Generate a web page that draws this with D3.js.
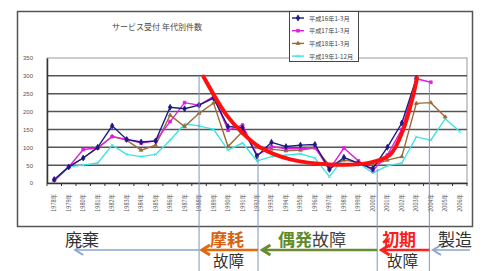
<!DOCTYPE html>
<html>
<head>
<meta charset="utf-8">
<script src="https://cdn.jsdelivr.net/npm/d3@7"></script>
<style>
body { margin: 0; background: #fff; }
svg { display: block; }
</style>
</head>
<body>
<svg id="chart" width="487" height="271"></svg>
<script>
var years = ["1978年","1979年","1980年","1981年","1982年","1983年","1984年","1985年","1986年","1987年",
             "1988年","1989年","1990年","1991年","1992年","1993年","1994年","1995年","1996年","1997年",
             "1998年","1999年","2000年","2001年","2002年","2003年","2004年","2005年","2006年"];
var seriesNames = ["平成16年1-3月", "平成17年1-3月", "平成18年1-3月", "平成19年1-12月"];
var navy = [10, 45, 70, 100, 160, 122, 115, 118, 212, 208, 218, 238, 158, 155, 75, 114, 102, 106, 108, 38, 72, 55, 40, 100, 168, 293];
var magenta = [8, 45, 94, 98, 130, 122, 112, 118, 172, 225, 218, 242, 148, 162, 78, 102, 96, 96, 100, 38, 98, 62, 35, 78, 150, 292, 282];
var brown = [8, 45, 70, 98, 130, 120, 92, 106, 190, 158, 195, 224, 102, 144, 100, 95, 90, 92, 98, 50, 64, 58, 50, 64, 74, 223, 225, 185];
var cyan = [5, 45, 50, 56, 106, 80, 74, 80, 120, 165, 160, 150, 92, 112, 62, 74, 78, 82, 70, 18, 70, 56, 28, 48, 56, 129, 120, 180, 144];
var yTicks = [0, 50, 100, 150, 200, 250, 300, 350];

// bathtub curve, [category index, value]
var bathtub = [[10.3, 298], [11.9, 190], [13.0, 140], [14.2, 100], [16.3, 66], [19, 52],
               [21.8, 57], [23.2, 80], [24.1, 150], [24.7, 232], [25.05, 294]];
// phase boundaries (category index) and where each guide line starts (value)
var phaseIdx = [10, 14.07, 22.3, 25.9];
var phaseTop = [300, 75, 40, 282];

var svg = d3.select("#chart");
var plotL = 47, plotR = 467, plotT = 58, plotB = 183;

var x = d3.scaleBand().domain(years).range([plotL, plotR]).padding(0);
var xi = d3.scaleLinear().domain([-0.5, years.length - 0.5]).range([plotL, plotR]);
var y = d3.scaleLinear().domain([0, 350]).range([plotB, plotT]);

// outer frame
svg.append("rect").attr("x", 17.5).attr("y", 11.5).attr("width", 455).attr("height", 215)
    .attr("fill", "#fff").attr("stroke", "#555").attr("stroke-width", 1.5);

// title
svg.append("text").attr("x", 157).attr("y", 26).attr("text-anchor", "middle")
    .attr("dominant-baseline", "central")
    .attr("font-family", "Noto Sans CJK JP").attr("font-size", 8).attr("fill", "#444")
    .text("サービス受付 年代別件数");

// plot border
svg.append("rect").attr("x", plotL).attr("y", plotT).attr("width", plotR - plotL).attr("height", plotB - plotT)
    .attr("fill", "none").attr("stroke", "#999").attr("stroke-width", 1);

// gridlines
svg.append("g").selectAll("line").data(yTicks.filter(function(d) { return d > 0 && d < 350; }))
    .enter().append("line")
    .attr("x1", plotL).attr("x2", plotR)
    .attr("y1", function(d) { return y(d); }).attr("y2", function(d) { return y(d); })
    .attr("stroke", "#555").attr("stroke-width", 1.5);

// y axis
var yAxis = svg.append("g").attr("transform", "translate(" + plotL + ",0)")
    .call(d3.axisLeft(y).tickValues(yTicks).tickSize(0).tickPadding(14));
yAxis.select(".domain").attr("stroke", "#333").attr("stroke-width", 1.5);
yAxis.selectAll("text").attr("font-family", "Liberation Sans").attr("font-size", 6).attr("fill", "#555");

// x axis
var xAxis = svg.append("g").attr("transform", "translate(0," + plotB + ")")
    .call(d3.axisBottom(x).tickSize(0).tickFormat(""));
xAxis.select(".domain").attr("stroke", "#333").attr("stroke-width", 1.5);
svg.append("g").selectAll("line").data(d3.range(years.length + 1)).enter().append("line")
    .attr("x1", function(d) { return xi(d - 0.5); }).attr("x2", function(d) { return xi(d - 0.5); })
    .attr("y1", plotB).attr("y2", plotB + 3)
    .attr("stroke", "#333").attr("stroke-width", 1);
svg.append("g").selectAll("text").data(years).enter().append("text")
    .attr("transform", function(d) {
        return "translate(" + (x(d) + x.bandwidth() / 2 + 2) + ",194) rotate(-90)";
    })
    .attr("text-anchor", "end")
    .attr("font-family", "Noto Sans CJK JP").attr("font-size", 5.5).attr("fill", "#555")
    .text(function(d) { return d; });

// series
var series = [
    {name: seriesNames[0], values: navy, color: "#1a1a80", symbol: d3.symbolDiamond, size: 10},
    {name: seriesNames[1], values: magenta, color: "#e020e0", symbol: d3.symbolSquare, size: 8},
    {name: seriesNames[2], values: brown, color: "#9a6b3a", symbol: d3.symbolTriangle, size: 6},
    {name: seriesNames[3], values: cyan, color: "#3fe3e3", symbol: d3.symbolX, size: 6}
];

var line = d3.line()
    .x(function(d, i) { return xi(i); })
    .y(function(d) { return y(d); });

series.slice().reverse().forEach(function(s) {
    svg.append("path").datum(s.values).attr("d", line)
        .attr("fill", "none").attr("stroke", s.color).attr("stroke-width", 1.4);
    svg.append("g").selectAll("path").data(s.values).enter().append("path")
        .attr("transform", function(d, i) { return "translate(" + xi(i) + "," + y(d) + ")"; })
        .attr("d", d3.symbol().type(s.symbol).size(s.size))
        .attr("fill", s.symbol === d3.symbolX ? "none" : s.color)
        .attr("stroke", s.color).attr("stroke-width", 0.8);
});

// phase guide lines
svg.append("g").selectAll("line").data(phaseIdx).enter().append("line")
    .attr("x1", function(d) { return xi(d); }).attr("x2", function(d) { return xi(d); })
    .attr("y1", function(d, i) { return y(phaseTop[i]); }).attr("y2", 271)
    .attr("stroke", "#7a96c4").attr("stroke-width", 1);

// bathtub curve
svg.append("path").datum(bathtub)
    .attr("d", d3.line().curve(d3.curveCatmullRom)
        .x(function(d) { return xi(d[0]); })
        .y(function(d) { return y(d[1]); }))
    .attr("fill", "none").attr("stroke", "#ff1010").attr("stroke-width", 4)
    .attr("stroke-linecap", "round");

// legend
var lg = svg.append("g");
lg.append("rect").attr("x", 289.5).attr("y", 11.5).attr("width", 69).attr("height", 50)
    .attr("fill", "#fff").attr("stroke", "#444").attr("stroke-width", 1);
series.forEach(function(s, i) {
    var ly = 18 + i * 12.7;
    lg.append("line").attr("x1", 292).attr("x2", 304).attr("y1", ly).attr("y2", ly)
        .attr("stroke", s.color).attr("stroke-width", 1.4);
    lg.append("path").attr("transform", "translate(298," + ly + ")")
        .attr("d", d3.symbol().type(s.symbol).size(s.size))
        .attr("fill", s.symbol === d3.symbolX ? "none" : s.color)
        .attr("stroke", s.color).attr("stroke-width", 0.8);
    lg.append("text").attr("x", 309).attr("y", ly).attr("dominant-baseline", "central")
        .attr("font-family", "Noto Sans CJK JP").attr("font-size", 6.2).attr("fill", "#444")
        .text(s.name);
});

// phase annotations under the chart
var arrowY = 250;
var arrows = [
    {from: phaseIdx[0], to: 1.45, color: "#8aa4d0", w: 1.5},
    {from: phaseIdx[1], to: phaseIdx[0] + 0.2, color: "#e06a10", w: 2.5},
    {from: phaseIdx[2], to: phaseIdx[1] + 0.3, color: "#6b8a35", w: 2.5},
    {from: phaseIdx[3], to: phaseIdx[2] + 0.3, color: "#ff2020", w: 2.5},
    {from: 28.7, to: phaseIdx[3] + 0.25, color: "#8aa4d0", w: 1.5}
];
arrows.forEach(function(a) {
    var x1 = xi(a.from), x2 = xi(a.to);
    svg.append("line").attr("x1", x1).attr("x2", x2 + 2).attr("y1", arrowY).attr("y2", arrowY)
        .attr("stroke", a.color).attr("stroke-width", a.w);
    svg.append("path")
        .attr("d", "M" + (x2 + 8) + "," + (arrowY - 5) + "L" + x2 + "," + arrowY + "L" + (x2 + 8) + "," + (arrowY + 5))
        .attr("fill", "none").attr("stroke", a.color).attr("stroke-width", a.w + 0.5)
        .attr("stroke-linejoin", "miter");
});

var labels = [
    {parts: [["廃棄", "#333", 400]], at: 0.75, row: 0},
    {parts: [["摩耗", "#d86010", 700]], at: 10.76, row: 0},
    {parts: [["故障", "#333", 400]], at: 10.96, row: 1},
    {parts: [["偶発", "#5f8a2a", 700], ["故障", "#444", 400]], at: 15.45, row: 0},
    {parts: [["初期", "#ff1a1a", 700]], at: 22.64, row: 0},
    {parts: [["故障", "#333", 400]], at: 22.98, row: 1},
    {parts: [["製造", "#333", 400]], at: 26.5, row: 0}
];
labels.forEach(function(l) {
    var t = svg.append("text").attr("x", xi(l.at)).attr("y", l.row === 0 ? 238 : 260)
        .attr("dominant-baseline", "central")
        .attr("font-family", "Noto Sans CJK JP").attr("font-size", l.row === 0 ? 17 : 15.5);
    l.parts.forEach(function(p) {
        t.append("tspan").attr("fill", p[1]).attr("font-weight", p[2]).text(p[0]);
    });
});
</script>
</body>
</html>
